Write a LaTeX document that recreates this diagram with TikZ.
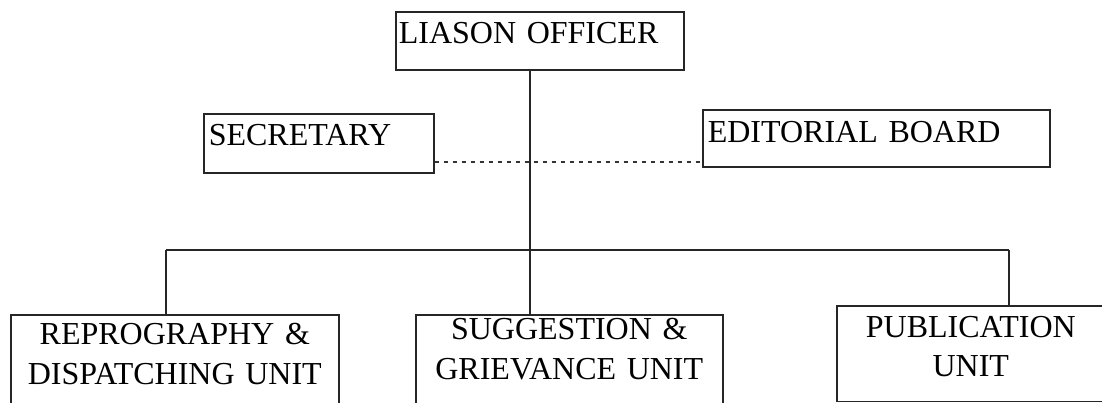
\documentclass[tikz,border=0pt]{standalone}
\usepackage{fontspec}
\setmainfont{Liberation Serif}
\tikzset{
  box/.style={draw=black!85, rectangle, anchor=north west, inner ysep=0pt, line width=1.6pt,
    font=\fontsize{32}{40}\selectfont},
  topbox/.style={box, align=left, inner xsep=5pt},
  unitbox/.style={box, align=center, inner xsep=4pt},
  link/.style={draw=black!85, line width=1.6pt},
  dotlink/.style={draw=black!80, line width=2.6pt, dash pattern=on 4pt off 5pt}
}
\begin{document}
\begin{tikzpicture}[x=1pt,y=-1pt]
\useasboundingbox (0,0) rectangle (1102,402);
\fill[white] (0,0) rectangle (1102,402);
\begin{scope}
\clip (0,0) rectangle (1102,402);
% top boxes
\node[topbox, inner xsep=3pt, text width=282pt, text height=32pt, text depth=26pt] (lo) at (395,11) {LIASON OFFICER};
\node[topbox, text width=220pt, text height=32pt, text depth=27pt] (sec) at (203,113) {SECRETARY};
\node[topbox, text width=337pt, text height=33pt, text depth=24pt] (ed) at (702,109) {EDITORIAL BOARD};
% unit boxes
\node[unitbox, text width=320pt, text height=30pt, text depth=86pt] (rep) at (10,314) {REPROGRAPHY \&\\ DISPATCHING UNIT};
\node[unitbox, text width=299pt, text height=25pt, text depth=91pt] (sug) at (415,314) {SUGGESTION \&\\ GRIEVANCE UNIT};
\node[unitbox, text width=260pt, text height=32pt, text depth=63.5pt,
      font=\fontsize{32}{39}\selectfont] (pub) at (836,305) {PUBLICATION\\ UNIT};
% helper coordinates
\coordinate (trunk) at (530,250);
\coordinate (dot) at (530,162);
\coordinate (ldrop) at (166,250);
\coordinate (rdrop) at (1009,250);
% connectors
\draw[link] (lo.south -| trunk) -- (sug.north -| trunk);
\draw[dotlink] (sec.east |- dot) -- (ed.west |- dot);
\draw[link] (ldrop) -- (rdrop);
\draw[link] (ldrop) -- (rep.north -| ldrop);
\draw[link] (rdrop) -- (pub.north -| rdrop);
\end{scope}
\end{tikzpicture}
\end{document}
